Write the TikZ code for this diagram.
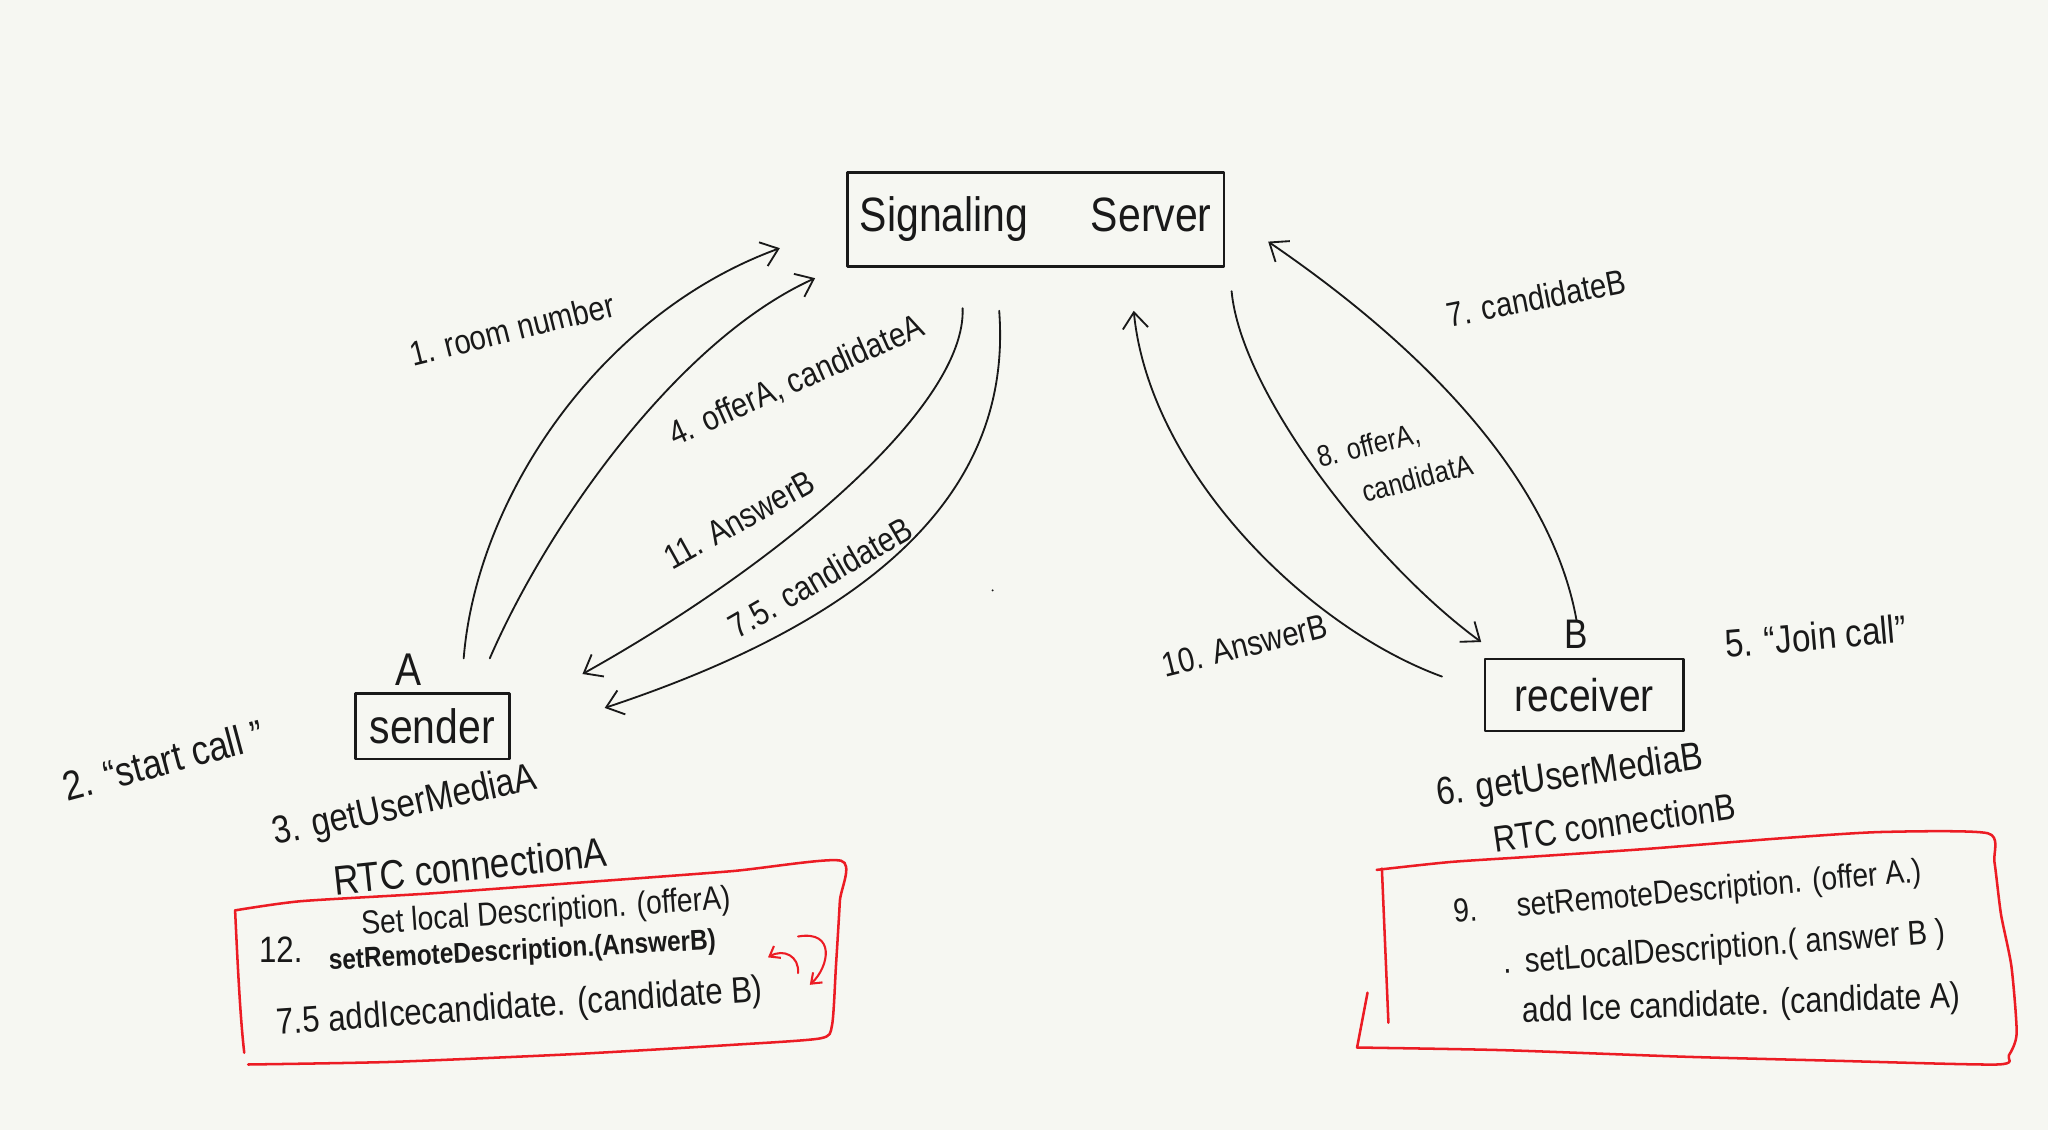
\documentclass[tikz,border=0pt]{standalone}
\usepackage{fontspec}
\setmainfont{Liberation Sans}[FakeStretch=0.85]
\usetikzlibrary{arrows.meta,calc}
\definecolor{bg}{RGB}{246,247,242}
\definecolor{ink}{RGB}{25,25,25}
\definecolor{redink}{RGB}{236,28,36}
\begin{document}
\begin{tikzpicture}[x=0.02cm,y=-0.02cm,line cap=round,line join=round,
  box/.style={draw=ink,line width=1.1pt,inner sep=0pt,text=ink},
  lbl/.style={text=ink,inner sep=0pt,font=\fontsize{15}{17}\selectfont},
  conn/.style={draw=ink,line width=0.8pt,-{Straight Barb[length=7pt,width=11pt,line width=0.8pt]}},
  redbox/.style={draw=redink,line width=1.1pt},
  redarr/.style={draw=redink,line width=0.9pt,-{Straight Barb[length=4pt,width=6pt,line width=0.9pt]}}]
\fill[bg] (0,0) rectangle (1568,865);
\useasboundingbox (0,0) rectangle (1568,865);

% main nodes
\node[box,minimum width=5.76cm,minimum height=1.44cm,font=\fontsize{21}{23}\selectfont] (server) at (793,168) {Signaling\hspace{1.3em}Server};
\node[box,minimum width=2.36cm,minimum height=1.0cm,font=\fontsize{21}{23}\selectfont] (sender) at (331,556) {sender};
\node[box,minimum width=3.04cm,minimum height=1.1cm,font=\fontsize{20}{22}\selectfont] (receiver) at (1213,532) {receiver};
\node[lbl,font=\fontsize{20}{22}\selectfont] (labA) at (313,513) {A};
\node[lbl,font=\fontsize{18}{20}\selectfont] (labB) at (1207,486) {B};

% connectors
\draw[conn] ($(sender.north)+(24,-26)$) .. controls (365,380) and (460,240) .. ($(server.west)+(-51,22)$);
\draw[conn] ($(sender.north)+(44,-26)$) .. controls (420,400) and (520,260) .. ($(server.south west)+(-24,8)$);
\draw[conn] ($(server.south)+(-56,31)$) .. controls (740,310) and (600,430) .. ($(sender.north east)+(55,-14)$);
\draw[conn] ($(server.south)+(-28,33)$) .. controls (775,370) and (680,470) .. ($(sender.east)+(72,-14)$);
\draw[conn] (labB.north) .. controls (1190,380) and (1110,280) .. ($(server.east)+(33,17)$);
\draw[conn] ($(server.south east)+(5,18)$) .. controls (950,300) and (1050,430) .. ($(receiver.north west)+(-2,-12)$);
\draw[conn] ($(receiver.west)+(-32,-14)$) .. controls (1000,480) and (880,360) .. ($(server.south)+(75,33)$);

% connector labels
\node[lbl,rotate=14] (l1) at (392,252) {1. room number};
\node[lbl,rotate=24] (l4) at (610,292) {4. offerA, candidateA};
\node[lbl,rotate=29] (l11) at (566,398) {11. AnswerB};
\node[lbl,rotate=30] (l75) at (628,442) {7.5. candidateB};
\node[lbl,rotate=11] (l7) at (1176,228) {7. candidateB};
\node[lbl,rotate=14,font=\fontsize{13}{15}\selectfont] (l8a) at (1048,342) {8. offerA,};
\node[lbl,rotate=15,font=\fontsize{13}{15}\selectfont] (l8b) at (1085,366) {candidatA};
\node[lbl,rotate=14] (l10) at (953,494) {10. AnswerB};
\node[lbl,rotate=5,font=\fontsize{17}{19}\selectfont] (l5) at (1390,487) {5. “Join call”};
\node[lbl,rotate=15,font=\fontsize{18}{20}\selectfont] (l2) at (125,582) {2. “start call ”};
\fill[ink] (760,452) circle (0.8);

% sender side steps
\node[lbl,rotate=12,font=\fontsize{17}{19}\selectfont] (l3) at (310,618) {3. getUserMediaA};
\node[lbl,rotate=6,font=\fontsize{18}{20}\selectfont] (lrtcA) at (360,663) {RTC connectionA};
\node[lbl,rotate=4,font=\fontsize{14.5}{16}\selectfont] (sA1) at (418,699) {Set local Description. (offerA)};
\node[lbl,font=\fontsize{16}{18}\selectfont] (sA2n) at (215,727) {12.};
\node[lbl,rotate=3,font=\bfseries\fontsize{12.5}{14}\selectfont] (sA2) at (400,729) {setRemoteDescription.(AnswerB)};
\node[lbl,rotate=4,font=\fontsize{16}{18}\selectfont] (sA3) at (398,772) {7.5 addIcecandidate. (candidate B)};

\draw[redbox] plot[smooth,tension=0.4] coordinates {(180,697) (230,690) (330,684) (440,676) (560,667) (644,659) (643,690) (640,740) (637,785) (628,795) (560,800) (440,807) (300,813) (190,815)};
\draw[redbox] (180,697) .. controls (182,740) and (184,780) .. (187,806);
\draw[redarr] (611,745) .. controls (612,732) and (600,726) .. (588,733);
\draw[redarr] (611,717) .. controls (640,712) and (635,740) .. (620,754);

% receiver side steps
\node[lbl,rotate=8,font=\fontsize{17}{19}\selectfont] (l6) at (1202,595) {6. getUserMediaB};
\node[lbl,rotate=8,font=\fontsize{16}{18}\selectfont] (lrtcB) at (1236,630) {RTC connectionB};
\node[lbl,rotate=5,font=\fontsize{14.5}{16}\selectfont] (sB1) at (1292,684) {9.\hspace{1.2em}setRemoteDescription. (offer A.)};
\node[lbl,rotate=4,font=\fontsize{15}{17}\selectfont] (sB2) at (1320,727) {.\hspace{0.4em}setLocalDescription.( answer B )};
\node[lbl,rotate=2,font=\fontsize{15.5}{17}\selectfont] (sB3) at (1333,770) {add Ice candidate. (candidate A)};

\draw[redbox] plot[smooth,tension=0.4] coordinates {(1054,666) (1110,660) (1171,656) (1260,650) (1361,642) (1440,637) (1522,638) (1527,660) (1532,700) (1540,740) (1544,791) (1538,808) (1529,815) (1400,812) (1288,809) (1150,804) (1039,802)};
\draw[redbox] (1039,802) -- (1047,760);
\draw[redbox] (1058,665) -- (1063,783);
\end{tikzpicture}
\end{document}
